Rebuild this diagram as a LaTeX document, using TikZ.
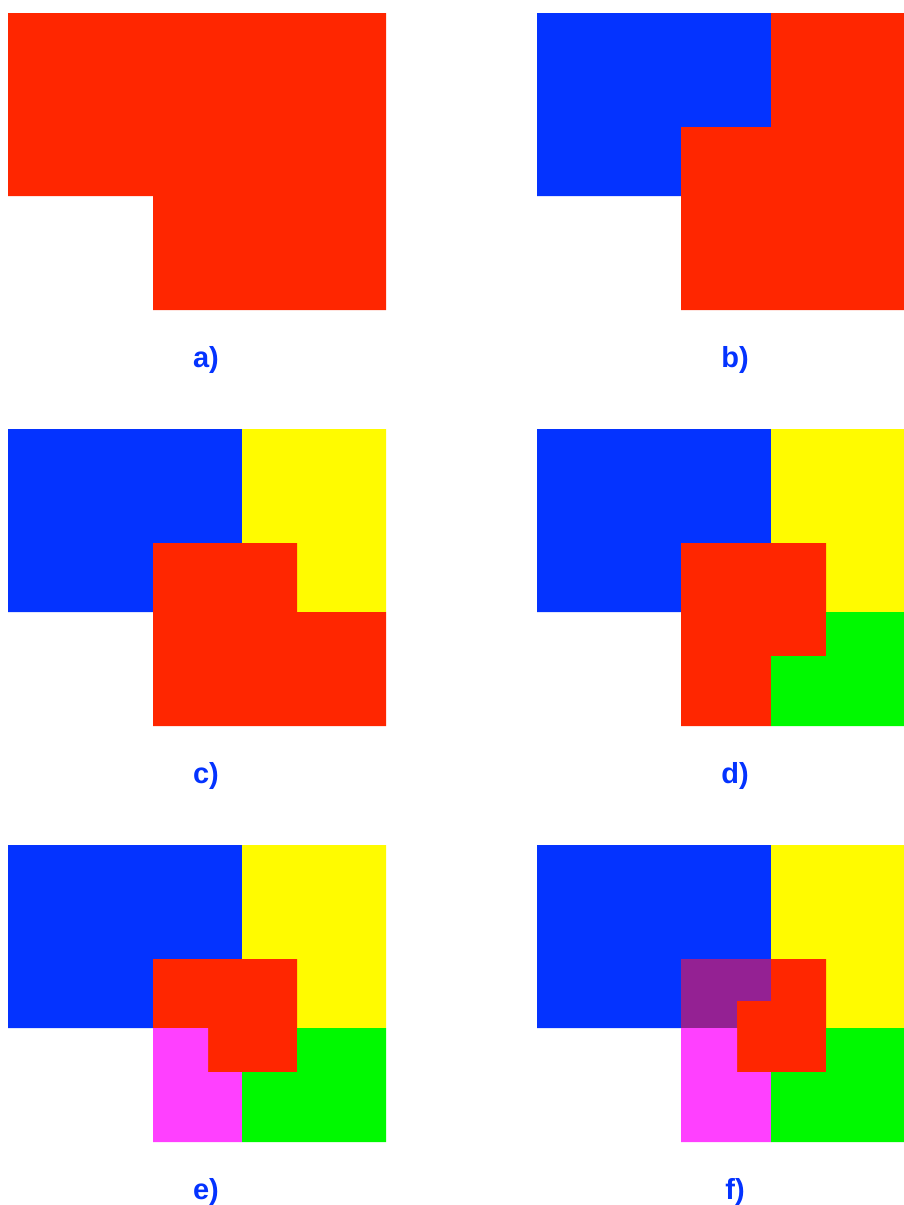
\documentclass[tikz,border=0pt]{standalone}
\usepackage{fontspec}
\setmainfont{Liberation Sans}
\definecolor{cred}{HTML}{FF2600}
\definecolor{cblue}{HTML}{0433FF}
\definecolor{cyellow}{HTML}{FFFB00}
\definecolor{cgreen}{HTML}{00F900}
\definecolor{cmagenta}{HTML}{FF40FF}
\definecolor{cpurple}{HTML}{942193}
\tikzset{
  redreg/.style={fill=cred},
  bluereg/.style={fill=cblue},
  yellowreg/.style={fill=cyellow},
  greenreg/.style={fill=cgreen},
  magreg/.style={fill=cmagenta},
  purpreg/.style={fill=cpurple},
  lbl/.style={text=cblue, font=\fontsize{29}{29}\selectfont\bfseries, anchor=base, inner sep=0pt}
}
\begin{document}
\begin{tikzpicture}[x=1pt,y=-1pt]
\useasboundingbox (0,0) rectangle (904,1205);
% a
\path[redreg] (8,13)--(386,13)--(386,310)--(153,310)--(153,196)--(8,196)--cycle;
\node[lbl] (la) at (206,367) {a)};
% b
\path[bluereg] (537,13)--(771,13)--(771,127)--(681,127)--(681,196)--(537,196)--cycle;
\path[redreg] (771,13)--(904,13)--(904,310)--(681,310)--(681,127)--(771,127)--cycle;
\node[lbl] (lb) at (735,367) {b)};
% c
\path[bluereg] (8,429)--(242,429)--(242,543)--(153,543)--(153,612)--(8,612)--cycle;
\path[yellowreg] (242,429)--(386,429)--(386,612)--(297,612)--(297,543)--(242,543)--cycle;
\path[redreg] (153,543)--(297,543)--(297,612)--(386,612)--(386,726)--(153,726)--cycle;
\node[lbl] (lc) at (206,783) {c)};
% d
\path[bluereg] (537,429)--(771,429)--(771,543)--(681,543)--(681,612)--(537,612)--cycle;
\path[yellowreg] (771,429)--(904,429)--(904,612)--(826,612)--(826,543)--(771,543)--cycle;
\path[redreg] (681,543)--(826,543)--(826,656)--(771,656)--(771,726)--(681,726)--cycle;
\path[greenreg] (826,612)--(904,612)--(904,726)--(771,726)--(771,656)--(826,656)--cycle;
\node[lbl] (ld) at (735,783) {d)};
% e
\path[bluereg] (8,845)--(242,845)--(242,959)--(153,959)--(153,1028)--(8,1028)--cycle;
\path[yellowreg] (242,845)--(386,845)--(386,1028)--(297,1028)--(297,959)--(242,959)--cycle;
\path[redreg] (153,959)--(297,959)--(297,1072)--(208,1072)--(208,1028)--(153,1028)--cycle;
\path[magreg] (153,1028)--(208,1028)--(208,1072)--(242,1072)--(242,1142)--(153,1142)--cycle;
\path[greenreg] (297,1028)--(386,1028)--(386,1142)--(242,1142)--(242,1072)--(297,1072)--cycle;
\node[lbl] (le) at (206,1199) {e)};
% f
\path[bluereg] (537,845)--(771,845)--(771,959)--(681,959)--(681,1028)--(537,1028)--cycle;
\path[yellowreg] (771,845)--(904,845)--(904,1028)--(826,1028)--(826,959)--(771,959)--cycle;
\path[purpreg] (681,959)--(771,959)--(771,1001)--(737,1001)--(737,1028)--(681,1028)--cycle;
\path[redreg] (771,959)--(826,959)--(826,1072)--(737,1072)--(737,1001)--(771,1001)--cycle;
\path[magreg] (681,1028)--(737,1028)--(737,1072)--(771,1072)--(771,1142)--(681,1142)--cycle;
\path[greenreg] (826,1028)--(904,1028)--(904,1142)--(771,1142)--(771,1072)--(826,1072)--cycle;
\node[lbl] (lf) at (735,1199) {f)};
\end{tikzpicture}
\end{document}
